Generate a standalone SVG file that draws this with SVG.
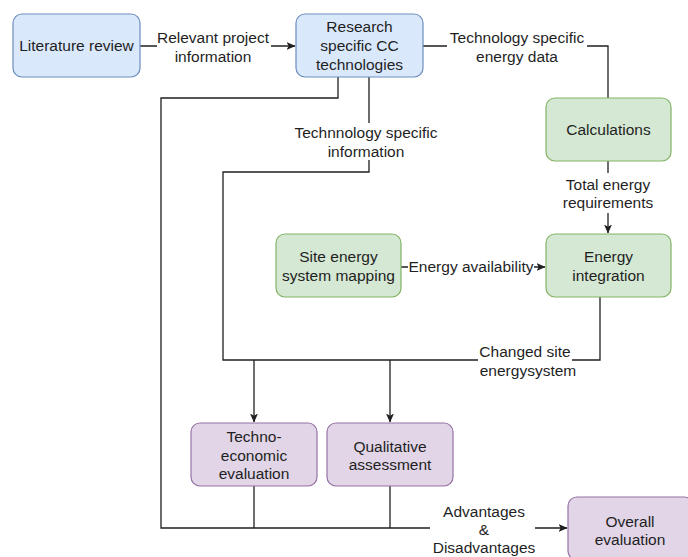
<svg xmlns="http://www.w3.org/2000/svg" width="688" height="557" viewBox="0 0 688 557">
<defs>
<style>
.box{stroke-width:1.2}
.blue{fill:#dae8fc;stroke:#6c8ebf}
.green{fill:#d5e8d4;stroke:#82b366}
.purple{fill:#e1d5e7;stroke:#9673a6}
text{font-family:"Liberation Sans",Arial,sans-serif;font-size:15.5px;fill:#1f1f1f;text-anchor:middle}
.edge{fill:none;stroke:#1f1f1f;stroke-width:1.3}
.lbl{fill:#ffffff;stroke:none}
</style>
<marker id="arr" viewBox="0 0 9 8" refX="8.5" refY="4" markerWidth="9" markerHeight="8" markerUnits="userSpaceOnUse" orient="auto">
<path d="M0,0 L9,4 L0,8 L2.2,4 z" fill="#1f1f1f"/>
</marker>
</defs>
<rect width="688" height="557" fill="#ffffff"/>
<g id="connectors">
<path class="edge" d="M140,46 H295" marker-end="url(#arr)"/>
<rect class="lbl" x="157" y="30" width="114" height="36"/>
<text x="213" y="43">Relevant project</text>
<text x="213" y="62">information</text>
<path class="edge" d="M423,46 H608 V98"/>
<rect class="lbl" x="447" y="30" width="140" height="36"/>
<text x="517" y="43">Technology specific</text>
<text x="517" y="62">energy data</text>
<path class="edge" d="M338,77 V98 H161 V528 H567" marker-end="url(#arr)"/>
<path class="edge" d="M369,77 V172 H223 V360 H600 V297"/>
<rect class="lbl" x="290" y="123" width="152" height="37"/>
<text x="366" y="138">Technnology specific</text>
<text x="366" y="157">information</text>
<path class="edge" d="M608,161 V233" marker-end="url(#arr)"/>
<rect class="lbl" x="562" y="173" width="92" height="40"/>
<text x="608" y="190">Total energy</text>
<text x="608" y="208">requirements</text>
<path class="edge" d="M401,267 H545" marker-end="url(#arr)"/>
<rect class="lbl" x="408" y="258" width="126" height="18"/>
<text x="471" y="272">Energy availability</text>
<rect class="lbl" x="478" y="342" width="94" height="38"/>
<text x="525" y="357">Changed site</text>
<text x="528" y="376">energysystem</text>
<path class="edge" d="M254,360 V422" marker-end="url(#arr)"/>
<path class="edge" d="M390,360 V422" marker-end="url(#arr)"/>
<path class="edge" d="M254,486 V528"/>
<path class="edge" d="M390,486 V528"/>
<rect class="lbl" x="430" y="500" width="105" height="57"/>
<text x="484" y="517">Advantages</text>
<text x="484" y="535">&amp;</text>
<text x="484" y="553">Disadvantages</text>
</g>
<g id="literature-review">
<rect class="box blue" x="13" y="14" width="127" height="63" rx="9"/>
<text x="76.5" y="51">Literature review</text>
</g>
<g id="research">
<rect class="box blue" x="296" y="14" width="127" height="63" rx="9"/>
<text x="359.5" y="32">Research</text>
<text x="359.5" y="51">specific CC</text>
<text x="359.5" y="70">technologies</text>
</g>
<g id="calculations">
<rect class="box green" x="546" y="98" width="125" height="63" rx="9"/>
<text x="608.5" y="135">Calculations</text>
</g>
<g id="site-energy">
<rect class="box green" x="276" y="234" width="125" height="63" rx="9"/>
<text x="338.5" y="262">Site energy</text>
<text x="338.5" y="281">system mapping</text>
</g>
<g id="energy-integration">
<rect class="box green" x="546" y="234" width="125" height="63" rx="9"/>
<text x="608.5" y="262">Energy</text>
<text x="608.5" y="281">integration</text>
</g>
<g id="techno-economic">
<rect class="box purple" x="191" y="423" width="126" height="63" rx="9"/>
<text x="254" y="442">Techno-</text>
<text x="254" y="461">economic</text>
<text x="254" y="479">evaluation</text>
</g>
<g id="qualitative">
<rect class="box purple" x="327" y="423" width="126" height="63" rx="9"/>
<text x="390" y="452">Qualitative</text>
<text x="390" y="470">assessment</text>
</g>
<g id="overall">
<rect class="box purple" x="568" y="497" width="125" height="63" rx="9"/>
<text x="630" y="527">Overall</text>
<text x="630" y="545">evaluation</text>
</g>
</svg>
